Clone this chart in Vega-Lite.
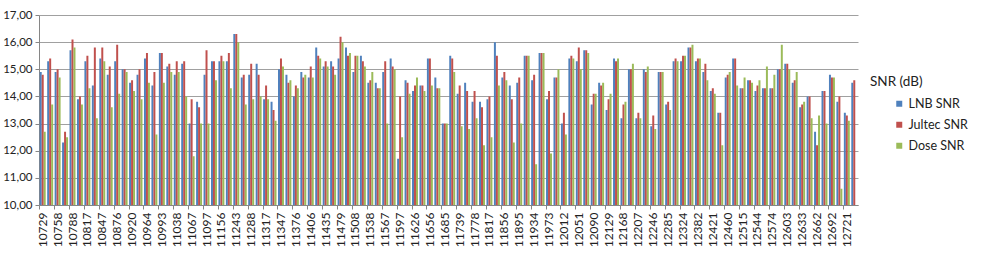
{
  "$schema": "https://vega.github.io/schema/vega-lite/v6.json",
  "width": 819,
  "height": 190,
  "autosize": {"type": "none"},
  "padding": {"left": 39, "top": 15, "right": 142, "bottom": 48},
  "background": "white",
  "data": {"values": [
    {"f":10729,"LNB SNR":14.9,"Jultec SNR":14.8,"Dose SNR":12.7},
    {"f":10743,"LNB SNR":15.3,"Jultec SNR":15.4,"Dose SNR":13.7},
    {"f":10758,"LNB SNR":14.9,"Jultec SNR":15.0,"Dose SNR":14.7},
    {"f":10773,"LNB SNR":12.3,"Jultec SNR":12.7,"Dose SNR":12.5},
    {"f":10788,"LNB SNR":15.7,"Jultec SNR":16.1,"Dose SNR":15.8},
    {"f":10802,"LNB SNR":13.9,"Jultec SNR":14.0,"Dose SNR":13.7},
    {"f":10817,"LNB SNR":15.3,"Jultec SNR":15.5,"Dose SNR":14.3},
    {"f":10832,"LNB SNR":14.4,"Jultec SNR":15.8,"Dose SNR":13.2},
    {"f":10847,"LNB SNR":15.4,"Jultec SNR":15.8,"Dose SNR":15.3},
    {"f":10862,"LNB SNR":14.8,"Jultec SNR":15.1,"Dose SNR":13.6},
    {"f":10876,"LNB SNR":15.3,"Jultec SNR":15.9,"Dose SNR":14.1},
    {"f":10890,"LNB SNR":15.0,"Jultec SNR":15.0,"Dose SNR":14.9},
    {"f":10920,"LNB SNR":14.5,"Jultec SNR":14.6,"Dose SNR":14.2},
    {"f":10935,"LNB SNR":14.8,"Jultec SNR":15.0,"Dose SNR":13.9},
    {"f":10964,"LNB SNR":15.4,"Jultec SNR":15.6,"Dose SNR":14.5},
    {"f":10979,"LNB SNR":14.4,"Jultec SNR":14.9,"Dose SNR":12.6},
    {"f":10993,"LNB SNR":15.6,"Jultec SNR":15.6,"Dose SNR":14.5},
    {"f":11023,"LNB SNR":15.1,"Jultec SNR":15.2,"Dose SNR":14.9},
    {"f":11038,"LNB SNR":14.8,"Jultec SNR":15.3,"Dose SNR":14.9},
    {"f":11053,"LNB SNR":15.2,"Jultec SNR":15.3,"Dose SNR":14.0},
    {"f":11067,"LNB SNR":13.0,"Jultec SNR":13.9,"Dose SNR":11.8},
    {"f":11082,"LNB SNR":13.8,"Jultec SNR":13.6,"Dose SNR":13.0},
    {"f":11097,"LNB SNR":14.8,"Jultec SNR":15.7,"Dose SNR":13.0},
    {"f":11127,"LNB SNR":15.3,"Jultec SNR":15.3,"Dose SNR":14.6},
    {"f":11156,"LNB SNR":15.3,"Jultec SNR":15.5,"Dose SNR":15.3},
    {"f":11170,"LNB SNR":15.3,"Jultec SNR":15.6,"Dose SNR":14.3},
    {"f":11243,"LNB SNR":16.3,"Jultec SNR":16.3,"Dose SNR":16.0},
    {"f":11259,"LNB SNR":14.7,"Jultec SNR":14.8,"Dose SNR":13.7},
    {"f":11288,"LNB SNR":14.8,"Jultec SNR":15.2,"Dose SNR":13.9},
    {"f":11303,"LNB SNR":15.2,"Jultec SNR":14.8,"Dose SNR":14.0},
    {"f":11317,"LNB SNR":13.9,"Jultec SNR":14.4,"Dose SNR":13.9},
    {"f":11332,"LNB SNR":13.8,"Jultec SNR":13.5,"Dose SNR":13.1},
    {"f":11347,"LNB SNR":15.0,"Jultec SNR":15.4,"Dose SNR":15.1},
    {"f":11362,"LNB SNR":14.8,"Jultec SNR":14.5,"Dose SNR":14.6},
    {"f":11376,"LNB SNR":14.0,"Jultec SNR":14.4,"Dose SNR":14.3},
    {"f":11391,"LNB SNR":14.9,"Jultec SNR":14.7,"Dose SNR":14.8},
    {"f":11406,"LNB SNR":14.7,"Jultec SNR":15.1,"Dose SNR":14.7},
    {"f":11420,"LNB SNR":15.8,"Jultec SNR":15.5,"Dose SNR":15.4},
    {"f":11435,"LNB SNR":15.1,"Jultec SNR":15.3,"Dose SNR":15.1},
    {"f":11464,"LNB SNR":15.3,"Jultec SNR":15.1,"Dose SNR":14.8},
    {"f":11479,"LNB SNR":15.4,"Jultec SNR":16.2,"Dose SNR":16.0},
    {"f":11493,"LNB SNR":15.8,"Jultec SNR":15.5,"Dose SNR":15.6},
    {"f":11508,"LNB SNR":14.9,"Jultec SNR":15.5,"Dose SNR":15.5},
    {"f":11523,"LNB SNR":15.5,"Jultec SNR":15.3,"Dose SNR":15.1},
    {"f":11538,"LNB SNR":14.5,"Jultec SNR":14.6,"Dose SNR":14.9},
    {"f":11553,"LNB SNR":14.5,"Jultec SNR":14.3,"Dose SNR":14.3},
    {"f":11567,"LNB SNR":14.9,"Jultec SNR":15.3,"Dose SNR":13.0},
    {"f":11582,"LNB SNR":15.4,"Jultec SNR":15.1,"Dose SNR":15.0},
    {"f":11597,"LNB SNR":11.7,"Jultec SNR":14.0,"Dose SNR":12.5},
    {"f":11612,"LNB SNR":14.6,"Jultec SNR":14.5,"Dose SNR":14.1},
    {"f":11626,"LNB SNR":14.2,"Jultec SNR":14.4,"Dose SNR":14.7},
    {"f":11641,"LNB SNR":14.4,"Jultec SNR":14.4,"Dose SNR":14.2},
    {"f":11656,"LNB SNR":15.4,"Jultec SNR":15.4,"Dose SNR":14.4},
    {"f":11670,"LNB SNR":14.7,"Jultec SNR":14.3,"Dose SNR":14.3},
    {"f":11685,"LNB SNR":13.0,"Jultec SNR":13.0,"Dose SNR":13.0},
    {"f":11720,"LNB SNR":15.5,"Jultec SNR":15.4,"Dose SNR":14.9},
    {"f":11739,"LNB SNR":14.1,"Jultec SNR":14.4,"Dose SNR":12.9},
    {"f":11758,"LNB SNR":14.5,"Jultec SNR":14.2,"Dose SNR":12.8},
    {"f":11778,"LNB SNR":13.8,"Jultec SNR":14.2,"Dose SNR":13.2},
    {"f":11798,"LNB SNR":13.8,"Jultec SNR":13.6,"Dose SNR":12.2},
    {"f":11817,"LNB SNR":13.9,"Jultec SNR":14.0,"Dose SNR":12.5},
    {"f":11836,"LNB SNR":16.0,"Jultec SNR":15.5,"Dose SNR":14.4},
    {"f":11856,"LNB SNR":14.7,"Jultec SNR":14.9,"Dose SNR":14.6},
    {"f":11875,"LNB SNR":14.4,"Jultec SNR":13.9,"Dose SNR":12.3},
    {"f":11895,"LNB SNR":14.5,"Jultec SNR":14.7,"Dose SNR":13.0},
    {"f":11914,"LNB SNR":15.5,"Jultec SNR":15.5,"Dose SNR":15.5},
    {"f":11934,"LNB SNR":14.6,"Jultec SNR":14.8,"Dose SNR":11.5},
    {"f":11954,"LNB SNR":15.6,"Jultec SNR":15.6,"Dose SNR":15.6},
    {"f":11973,"LNB SNR":13.9,"Jultec SNR":14.2,"Dose SNR":11.9},
    {"f":11992,"LNB SNR":14.7,"Jultec SNR":14.7,"Dose SNR":15.0},
    {"f":12012,"LNB SNR":13.0,"Jultec SNR":13.4,"Dose SNR":12.6},
    {"f":12032,"LNB SNR":15.4,"Jultec SNR":15.5,"Dose SNR":15.4},
    {"f":12051,"LNB SNR":15.3,"Jultec SNR":15.8,"Dose SNR":15.0},
    {"f":12070,"LNB SNR":15.7,"Jultec SNR":15.7,"Dose SNR":15.6},
    {"f":12090,"LNB SNR":13.7,"Jultec SNR":14.1,"Dose SNR":14.1},
    {"f":12110,"LNB SNR":14.5,"Jultec SNR":14.4,"Dose SNR":14.5},
    {"f":12129,"LNB SNR":13.5,"Jultec SNR":13.9,"Dose SNR":14.1},
    {"f":12148,"LNB SNR":15.4,"Jultec SNR":15.3,"Dose SNR":15.4},
    {"f":12168,"LNB SNR":13.2,"Jultec SNR":13.7,"Dose SNR":13.8},
    {"f":12188,"LNB SNR":15.0,"Jultec SNR":15.0,"Dose SNR":15.2},
    {"f":12207,"LNB SNR":13.2,"Jultec SNR":13.4,"Dose SNR":13.2},
    {"f":12226,"LNB SNR":15.0,"Jultec SNR":14.9,"Dose SNR":15.1},
    {"f":12246,"LNB SNR":12.9,"Jultec SNR":13.3,"Dose SNR":12.8},
    {"f":12266,"LNB SNR":14.9,"Jultec SNR":14.9,"Dose SNR":14.9},
    {"f":12285,"LNB SNR":13.7,"Jultec SNR":13.8,"Dose SNR":13.5},
    {"f":12304,"LNB SNR":15.3,"Jultec SNR":15.4,"Dose SNR":15.3},
    {"f":12324,"LNB SNR":15.3,"Jultec SNR":15.5,"Dose SNR":15.5},
    {"f":12344,"LNB SNR":15.8,"Jultec SNR":15.8,"Dose SNR":15.9},
    {"f":12382,"LNB SNR":15.3,"Jultec SNR":15.4,"Dose SNR":15.4},
    {"f":12402,"LNB SNR":14.9,"Jultec SNR":15.2,"Dose SNR":14.6},
    {"f":12421,"LNB SNR":14.2,"Jultec SNR":14.3,"Dose SNR":14.1},
    {"f":12441,"LNB SNR":13.4,"Jultec SNR":13.4,"Dose SNR":12.2},
    {"f":12460,"LNB SNR":14.7,"Jultec SNR":14.8,"Dose SNR":14.9},
    {"f":12480,"LNB SNR":15.4,"Jultec SNR":15.4,"Dose SNR":14.4},
    {"f":12515,"LNB SNR":14.3,"Jultec SNR":14.3,"Dose SNR":14.7},
    {"f":12525,"LNB SNR":14.6,"Jultec SNR":14.6,"Dose SNR":14.5},
    {"f":12544,"LNB SNR":14.2,"Jultec SNR":14.4,"Dose SNR":14.6},
    {"f":12558,"LNB SNR":14.3,"Jultec SNR":14.3,"Dose SNR":15.1},
    {"f":12574,"LNB SNR":14.3,"Jultec SNR":14.3,"Dose SNR":14.8},
    {"f":12588,"LNB SNR":15.0,"Jultec SNR":15.0,"Dose SNR":15.9},
    {"f":12603,"LNB SNR":15.2,"Jultec SNR":15.2,"Dose SNR":15.0},
    {"f":12618,"LNB SNR":14.5,"Jultec SNR":14.6,"Dose SNR":14.9},
    {"f":12633,"LNB SNR":13.6,"Jultec SNR":13.7,"Dose SNR":13.8},
    {"f":12647,"LNB SNR":14.0,"Jultec SNR":14.0,"Dose SNR":13.2},
    {"f":12662,"LNB SNR":12.7,"Jultec SNR":12.2,"Dose SNR":13.3},
    {"f":12677,"LNB SNR":14.2,"Jultec SNR":14.2,"Dose SNR":13.0},
    {"f":12692,"LNB SNR":14.8,"Jultec SNR":14.7,"Dose SNR":14.7},
    {"f":12706,"LNB SNR":13.8,"Jultec SNR":14.0,"Dose SNR":10.6},
    {"f":12721,"LNB SNR":13.4,"Jultec SNR":13.3,"Dose SNR":13.1},
    {"f":12736,"LNB SNR":14.5,"Jultec SNR":14.6}
  ]},
  "transform": [
    {"fold": ["LNB SNR", "Jultec SNR", "Dose SNR"], "as": ["s", "v"]}
  ],
  "mark": {"type": "bar", "clip": true},
  "encoding": {
    "x": {
      "field": "f",
      "type": "ordinal",
      "sort": "ascending",
      "scale": {"paddingInner": 0.2, "paddingOuter": 0.1},
      "axis": {
        "title": null,
        "labelAngle": -90,
        "labelFont": "Lato",
        "labelFontSize": 12,
        "labelColor": "#222222",
        "labelPadding": 3,
        "domainColor": "#868686",
        "tickColor": "#868686",
        "tickSize": 4,
        "bandPosition": 0,
        "values": [10729,10758,10788,10817,10847,10876,10920,10964,10993,11038,11067,11097,11156,11243,11288,11317,11347,11376,11406,11435,11479,11508,11538,11567,11597,11626,11656,11685,11739,11778,11817,11856,11895,11934,11973,12012,12051,12090,12129,12168,12207,12246,12285,12324,12382,12421,12460,12515,12544,12574,12603,12633,12662,12692,12721]
      }
    },
    "xOffset": {
      "field": "s",
      "type": "nominal",
      "scale": {"domain": ["LNB SNR", "Jultec SNR", "Dose SNR"], "paddingInner": 0, "paddingOuter": 0}
    },
    "y": {
      "field": "v",
      "type": "quantitative",
      "scale": {"domain": [10, 17], "zero": false, "nice": false},
      "axis": {
        "title": null,
        "values": [10, 11, 12, 13, 14, 15, 16, 17],
        "labelExpr": "replace(format(datum.value, '.2f'), '.', ',')",
        "labelFont": "Lato",
        "labelFontSize": 11.5,
        "labelColor": "#222222",
        "labelPadding": 3,
        "grid": true,
        "gridColor": "#a0a0a0",
        "domainColor": "#868686",
        "tickColor": "#868686",
        "tickSize": 4
      }
    },
    "color": {
      "field": "s",
      "type": "nominal",
      "scale": {"domain": ["LNB SNR", "Jultec SNR", "Dose SNR"], "range": ["#4F81BD", "#C0504D", "#9BBB59"]},
      "legend": {
        "title": "SNR (dB)",
        "orient": "none",
        "legendX": 831,
        "legendY": 60,
        "padding": 0,
        "symbolType": "square",
        "symbolSize": 36,
        "symbolOffset": 23,
        "symbolStrokeWidth": 0,
        "labelFont": "Lato",
        "labelFontSize": 12.5,
        "labelColor": "#222222",
        "labelOffset": 3,
        "titleFont": "Lato",
        "titleFontSize": 13.5,
        "titleFontWeight": "normal",
        "titleColor": "#222222",
        "titlePadding": 9,
        "rowPadding": 8
      }
    }
  },
  "config": {"view": {"stroke": null}}
}
